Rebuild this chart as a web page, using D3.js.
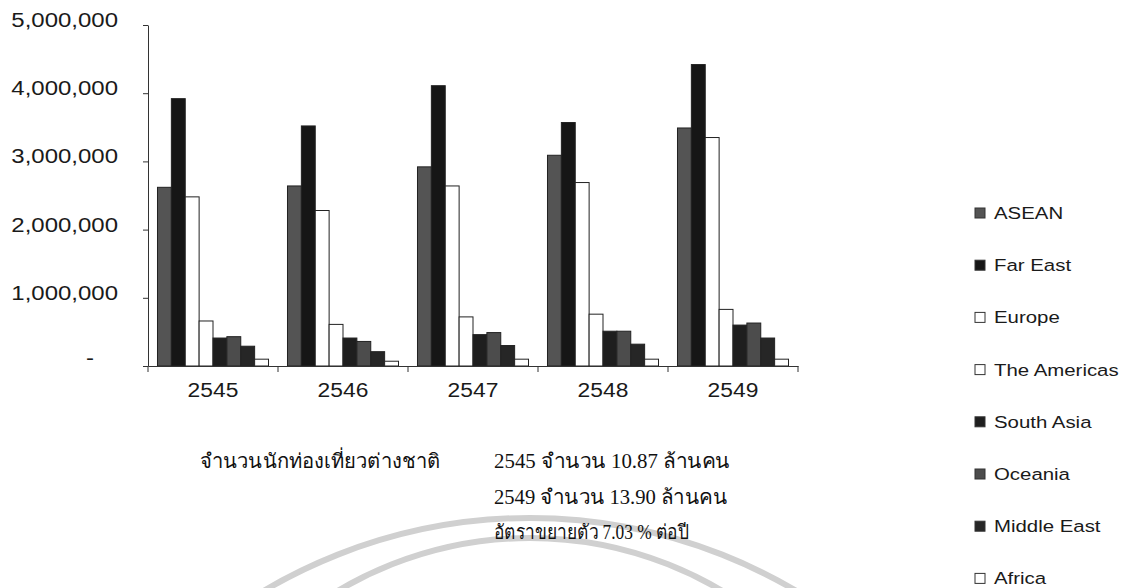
<!DOCTYPE html>
<html>
<head>
<meta charset="utf-8">
<script src="https://cdn.jsdelivr.net/npm/d3@7"></script>
<style>
  html, body { margin: 0; padding: 0; background: #ffffff; }
  svg { display: block; }
  .sans { font-family: "Liberation Sans", Arial, sans-serif; fill: #1a1a1a; }
  .thai { font-family: "Liberation Serif", serif; fill: #111111; }
</style>
</head>
<body>
<svg id="chart" width="1127" height="588"></svg>
<script>
// Foreign tourist arrivals by region, 2545–2549 (B.E.)
const years = ["2545", "2546", "2547", "2548", "2549"];
const regions = ["ASEAN", "Far East", "Europe", "The Americas", "South Asia", "Oceania", "Middle East", "Africa"];

const asean      = [2620000, 2640000, 2920000, 3090000, 3490000];
const farEast    = [3920000, 3520000, 4110000, 3570000, 4420000];
const europe     = [2480000, 2280000, 2640000, 2690000, 3350000];
const americas   = [ 660000,  610000,  720000,  760000,  830000];
const southAsia  = [ 410000,  410000,  460000,  510000,  600000];
const oceania    = [ 430000,  360000,  490000,  510000,  630000];
const middleEast = [ 290000,  210000,  300000,  320000,  410000];
const africa     = [ 100000,   70000,  100000,  100000,  100000];

const yTicks = [0, 1000000, 2000000, 3000000, 4000000, 5000000];

const noteTitle = "จำนวนนักท่องเที่ยวต่างชาติ";
const noteLines = [
  "2545 จำนวน  10.87 ล้านคน",
  "2549 จำนวน 13.90 ล้านคน",
  "อัตราขยายตัว 7.03 % ต่อปี"
];

const seriesValues = [asean, farEast, europe, americas, southAsia, oceania, middleEast, africa];
const fills = ["#545454", "#161616", "#ffffff", "#ffffff", "#1e1e1e", "#4c4c4c", "#262626", "#ffffff"];

const svg = d3.select("#chart");
const SX = 1.17; // wide lettering

// faint arcs behind the chart
const arcs = svg.append("g").attr("fill", "none").attr("stroke", "#d0d0d0").attr("stroke-width", 6);
arcs.append("circle").attr("cx", 530).attr("cy", 1040).attr("r", 522);
arcs.append("circle").attr("cx", 530).attr("cy", 913).attr("r", 375);

const x0 = d3.scaleBand().domain(years).range([148, 798]).paddingInner(0.146).paddingOuter(0.073);
const x1 = d3.scaleBand().domain(regions).range([0, x0.bandwidth()]);
const y = d3.scaleLinear().domain([0, 5000000]).range([366, 25]);

// bars
const groups = svg.append("g").selectAll("g").data(years).join("g")
  .attr("transform", d => `translate(${x0(d)},0)`);
groups.selectAll("rect")
  .data((yr, i) => regions.map((r, k) => ({ r, k, v: seriesValues[k][i] })))
  .join("rect")
  .attr("x", d => x1(d.r))
  .attr("y", d => y(d.v))
  .attr("width", x1.bandwidth())
  .attr("height", d => y(0) - y(d.v))
  .attr("fill", d => fills[d.k])
  .attr("stroke", "#222")
  .attr("stroke-width", 1);

// y axis
const yAxis = svg.append("g").attr("transform", "translate(148,0)")
  .call(d3.axisLeft(y).tickValues(yTicks).tickSize(5).tickSizeOuter(0)
    .tickFormat(d => d === 0 ? "-" : d3.format(",")(d)));
yAxis.select(".domain").attr("stroke", "#333");
yAxis.selectAll(".tick line").attr("stroke", "#333");
yAxis.selectAll(".tick text")
  .attr("class", "sans")
  .attr("font-size", 20.5)
  .attr("dy", null)
  .attr("y", 1.5)
  .attr("x", -30 / SX)
  .attr("transform", `scale(${SX},1)`);
yAxis.selectAll(".tick").filter(d => d === 0).select("text")
  .attr("text-anchor", "middle")
  .attr("x", -58 / SX)
  .attr("y", -2);

// x axis
const xAxis = svg.append("g").attr("transform", "translate(0,366)")
  .call(d3.axisBottom(x0).tickSize(0).tickSizeOuter(0).tickPadding(0));
xAxis.select(".domain").attr("stroke", "#333");
xAxis.selectAll(".tick text")
  .attr("class", "sans")
  .attr("font-size", 19.5)
  .attr("dy", null)
  .attr("y", 31)
  .attr("x", 0)
  .attr("transform", `scale(${SX},1)`);

// category boundary ticks
const bounds = d3.range(years.length + 1).map(i => x0.range()[0] + i * x0.step());
svg.append("g").selectAll("line").data(bounds).join("line")
  .attr("x1", d => d).attr("x2", d => d)
  .attr("y1", 366).attr("y2", 372)
  .attr("stroke", "#333");

// legend
const legend = svg.append("g");
regions.forEach((r, k) => {
  const cy = 213 + k * 52.2;
  legend.append("rect")
    .attr("x", 975).attr("y", cy - 5).attr("width", 10).attr("height", 10)
    .attr("fill", fills[k]).attr("stroke", "#333").attr("stroke-width", 1);
  legend.append("text")
    .attr("class", "sans")
    .attr("font-size", 17)
    .attr("transform", `translate(994,${cy + 6}) scale(1.2,1)`)
    .text(r);
});

// notes below the chart, each line fitted to its width
const notes = svg.append("g").attr("font-size", 20);
notes.append("text").attr("class", "thai")
  .attr("x", 200).attr("y", 468)
  .attr("textLength", 240).attr("lengthAdjust", "spacingAndGlyphs")
  .text(noteTitle);
const lineWidths = [236, 233, 195];
noteLines.forEach((s, i) => {
  notes.append("text").attr("class", "thai")
    .attr("x", 494).attr("y", 468 + i * 35.5)
    .attr("textLength", lineWidths[i]).attr("lengthAdjust", "spacingAndGlyphs")
    .text(s);
});
</script>
</body>
</html>
